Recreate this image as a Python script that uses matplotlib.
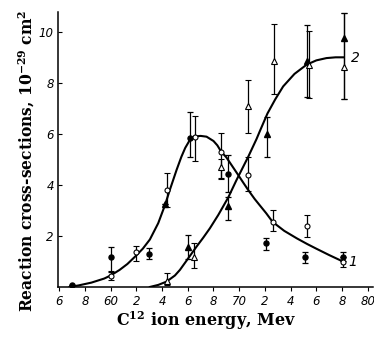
import matplotlib
matplotlib.use("Agg")
import matplotlib.pyplot as plt

plt.rcParams['mathtext.fontset'] = 'dejavuserif'

# curve 1 (peaked)
c1_e = [56.8, 57.5, 58.5, 59.5, 60.0, 60.7, 61.3, 61.9, 62.5, 63.05, 63.7, 64.22, 64.6,
        65.13, 65.5, 65.8, 66.17, 66.55, 67.0, 67.46, 68.0, 68.3, 68.6, 69.0, 69.4,
        69.92, 70.3, 70.7, 71.2, 71.6, 72.1, 72.6, 73.5, 74.5, 75.3, 76.0, 77.0, 78.1]
c1_y = [0.0, 0.06, 0.17, 0.33, 0.45, 0.67, 0.9, 1.19, 1.5, 1.86, 2.5, 3.2, 3.8,
        4.59, 5.1, 5.45, 5.77, 5.9, 5.92, 5.89, 5.72, 5.55, 5.3, 5.08, 4.78,
        4.39, 4.1, 3.8, 3.45, 3.2, 2.89, 2.55, 2.2, 1.9, 1.68, 1.5, 1.25, 0.99]

# curve 2 (rising)
c2_e = [63.05, 63.7, 64.35, 65.0, 65.39, 66.03, 66.68, 67.2, 67.72, 68.37, 69.14, 69.8,
        70.7, 71.35, 71.6, 72.2, 72.8, 73.42, 74.3, 75.24, 76.0, 76.79, 77.5, 78.1]
c2_y = [0.0, 0.08, 0.21, 0.45, 0.67, 1.12, 1.58, 1.93, 2.3, 2.82, 3.5, 4.2,
        5.1, 5.8, 6.1, 6.8, 7.35, 7.86, 8.35, 8.71, 8.88, 8.97, 9.0, 9.0]

# filled circles
fc_e = [57.0, 60.0, 63.0, 66.15, 69.15, 72.05, 75.15, 78.1]
fc_y = [0.08, 1.19, 1.30, 5.85, 4.42, 1.71, 1.16, 1.19]
fc_lo = [0.08, 0.60, 1.11, 5.11, 3.74, 1.45, 0.95, 1.0]
fc_hi = [0.08, 1.58, 1.53, 6.84, 5.18, 1.91, 1.38, 1.38]

# open circles
oc_e = [60.0, 62.0, 64.35, 66.55, 68.6, 70.65, 72.6, 75.25, 78.1]
oc_y = [0.44, 1.37, 3.80, 5.89, 5.28, 4.37, 2.55, 2.39, 0.97]
oc_lo = [0.27, 1.02, 3.12, 4.94, 4.26, 3.78, 2.21, 1.97, 0.80]
oc_hi = [0.63, 1.60, 4.45, 6.71, 6.05, 5.11, 3.02, 2.82, 1.19]

# filled triangles
ft_e = [64.22, 66.03, 69.15, 72.2, 75.25, 78.15]
ft_y = [3.25, 1.58, 3.16, 5.98, 8.84, 9.75]
ft_lo = [3.25, 1.10, 2.63, 5.11, 7.46, 7.36]
ft_hi = [3.25, 2.05, 3.52, 6.68, 10.27, 10.73]

# open triangles
ot_e = [64.35, 66.45, 68.6, 70.7, 72.72, 75.45, 78.15]
ot_y = [0.25, 1.19, 4.72, 7.10, 8.84, 8.68, 8.64]
ot_lo = [0.08, 0.73, 4.22, 6.05, 7.55, 7.40, 7.36]
ot_hi = [0.54, 1.74, 5.00, 8.12, 10.31, 10.05, 10.73]

xticks = [56, 58, 60, 62, 64, 66, 68, 70, 72, 74, 76, 78, 80]
xlabels = ['6', '8', '60', '2', '4', '6', '8', '70', '2', '4', '6', '8', '80']
yticks = [2, 4, 6, 8, 10]
ylabels = ['2', '4', '6', '8', '10']

fig = plt.figure(figsize=(3.74, 3.40), dpi=100)
ax = fig.add_axes([0.155, 0.156, 0.842, 0.809])

ax.plot(c1_e, c1_y, color='black', lw=1.5, zorder=2)
ax.plot(c2_e, c2_y, color='black', lw=1.5, zorder=2)

def errs(y, lo, hi):
    return [[v - l for v, l in zip(y, lo)], [h - v for v, h in zip(y, hi)]]

ebkw = dict(ls='none', ecolor='black', elinewidth=0.9, capsize=2.2, capthick=0.9, zorder=3)
ax.errorbar(fc_e, fc_y, yerr=errs(fc_y, fc_lo, fc_hi), fmt='o', ms=3.6,
            mfc='black', mec='black', **ebkw)
ax.errorbar(oc_e, oc_y, yerr=errs(oc_y, oc_lo, oc_hi), fmt='o', ms=3.6,
            mfc='white', mec='black', mew=0.8, **ebkw)
ax.errorbar(ft_e, ft_y, yerr=errs(ft_y, ft_lo, ft_hi), fmt='^', ms=4.2,
            mfc='black', mec='black', **ebkw)
ax.errorbar(ot_e, ot_y, yerr=errs(ot_y, ot_lo, ot_hi), fmt='^', ms=4.4,
            mfc='white', mec='black', mew=0.8, **ebkw)

ax.text(78.85, 0.98, '1', fontsize=10, style='italic', va='center', ha='center')
ax.text(79.0, 8.98, '2', fontsize=10, style='italic', va='center', ha='center')

ax.set_xlim(55.9, 80.4)
ax.set_ylim(0, 10.78)
ax.set_xticks(xticks)
ax.set_xticklabels(xlabels, style='italic', fontsize=8.5)
ax.set_yticks(yticks)
ax.set_yticklabels(ylabels, style='italic', fontsize=8.5)
ax.tick_params(axis='x', direction='out', length=3, width=0.8, pad=3)
ax.tick_params(axis='y', direction='in', length=3, width=0.8, pad=3)
ax.spines['top'].set_visible(False)
ax.spines['right'].set_visible(False)
ax.spines['left'].set_linewidth(1.1)
ax.spines['bottom'].set_linewidth(1.1)

fig.text(206 / 374, 1 - 321 / 340, r'C$^{\mathbf{12}}$ ion energy, Mev',
         family='DejaVu Serif', weight='bold', fontsize=11.5, ha='center', va='center')
fig.text(27 / 374, 1 - 161 / 340, r'Reaction cross-sections, 10$^{\mathbf{-29}}$ cm$^{\mathbf{2}}$',
         family='DejaVu Serif', weight='bold', fontsize=11.2, ha='center', va='center',
         rotation=90)

fig.savefig('out.png', dpi=100)
